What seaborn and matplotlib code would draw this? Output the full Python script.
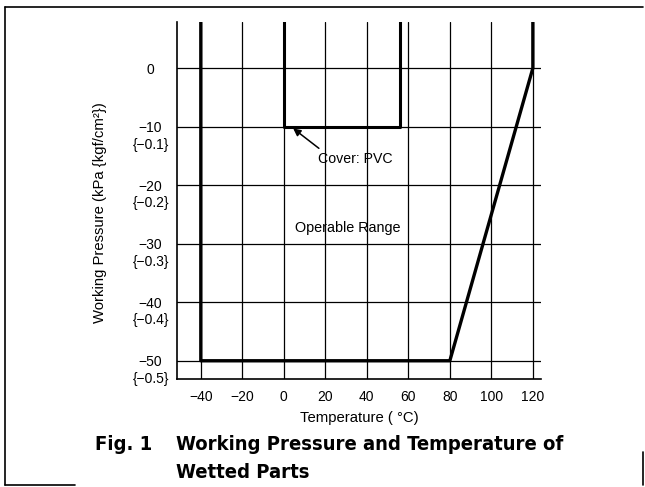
import matplotlib
matplotlib.use("Agg")
import matplotlib.pyplot as plt
import seaborn as sns
import pandas as pd
from matplotlib.lines import Line2D

# ---- data ----
range_temp = [-40, -40, 80, 120, 120]
range_pres = [8, -50, -50, 0, 8]
pvc_temp = [0, 0, 56, 56]
pvc_pres = [8, -10, -10, 8]
x_ticks = [-40, -20, 0, 20, 40, 60, 80, 100, 120]
x_tick_labels = ["−40", "−20", "0", "20", "40", "60", "80", "100", "120"]
y_ticks = [0, -10, -20, -30, -40, -50]
y_tick_labels = ["0", "−10", "−20", "−30", "−40", "−50"]
y_sub_labels = ["", "{−0.1}", "{−0.2}", "{−0.3}", "{−0.4}", "{−0.5}"]

sns.set_theme(style="white")
plt.rcParams["font.family"] = ["Liberation Sans", "DejaVu Sans"]
plt.rcParams["text.color"] = "black"
plt.rcParams["axes.labelcolor"] = "black"
plt.rcParams["xtick.color"] = "black"
plt.rcParams["ytick.color"] = "black"

fig = plt.figure(figsize=(6.45, 4.87), dpi=100)
ax = fig.add_axes([0.274, 0.222, 0.565, 0.733])

df_range = pd.DataFrame({"t": range_temp, "p": range_pres})
df_pvc = pd.DataFrame({"t": pvc_temp, "p": pvc_pres})
sns.lineplot(data=df_range, x="t", y="p", sort=False, estimator=None,
             color="black", linewidth=2.4, ax=ax, zorder=3)
sns.lineplot(data=df_pvc, x="t", y="p", sort=False, estimator=None,
             color="black", linewidth=2.2, ax=ax, zorder=3)

ax.set_xlim(-51.6, 124)
ax.set_ylim(-53.1, 7.9)
ax.set_xticks(x_ticks)
ax.set_xticklabels(x_tick_labels, fontsize=10)
ax.set_yticks(y_ticks)
ax.set_yticklabels(y_tick_labels, fontsize=10, ha="center")
ax.tick_params(axis="y", pad=14, length=5, width=1, direction="out", color="black")
ax.tick_params(axis="x", pad=5, length=6, width=1, direction="inout", color="black")
ax.grid(True, color="black", linewidth=0.9)
for s in ["top", "right"]:
    ax.spines[s].set_visible(False)
for s in ["left", "bottom"]:
    ax.spines[s].set_color("black")
    ax.spines[s].set_linewidth(1.2)

for y, sub in zip(y_ticks, y_sub_labels):
    if sub:
        ax.annotate(sub, xy=(0, y), xycoords=("axes fraction", "data"),
                    xytext=(-18.5, -13), textcoords="offset points",
                    ha="center", va="center", fontsize=10)

ax.set_xlabel("Temperature ( °C)", fontsize=10.7, labelpad=5)
ax.set_ylabel("Working Pressure (kPa {kgf/cm²})", fontsize=10.7)
ax.yaxis.set_label_coords(-0.19, 0.465)

ax.text(31, -27.3, "Operable Range", fontsize=10.4, ha="center", va="center")
ax.text(34.5, -15.6, "Cover: PVC", fontsize=10.2, ha="center", va="center")
ax.annotate("", xy=(4.5, -10.3), xytext=(16.9, -13.7),
            arrowprops=dict(arrowstyle="-|>", color="black", lw=1.1,
                            shrinkA=0, shrinkB=0, mutation_scale=11))

# caption
cap = dict(fontsize=14.5, fontweight="bold", ha="left", va="center",
           family=["DejaVu Sans", "Liberation Sans"], fontstretch="condensed")
fig.text(95 / 645, 1 - 445 / 487, "Fig. 1", **cap)
fig.text(176 / 645, 1 - 445 / 487, "Working Pressure and Temperature of", **cap)
fig.text(176 / 645, 1 - 472 / 487, "Wetted Parts", **cap)

# outer frame
def fl(x0, y0, x1, y1):
    fig.add_artist(Line2D([x0 / 645, x1 / 645], [1 - y0 / 487, 1 - y1 / 487],
                          color="black", linewidth=1.2))
fl(5, 7, 643, 7)
fl(5, 7, 5, 485)
fl(5, 485, 75, 485)
fl(643, 452, 643, 485)

fig.savefig("out.png", dpi=100)
